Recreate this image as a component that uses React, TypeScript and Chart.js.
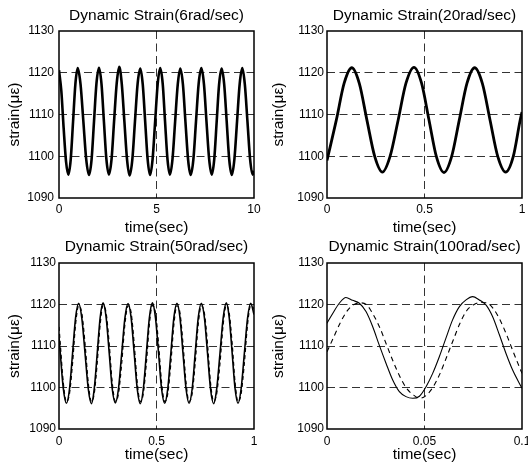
import React, { useEffect, useRef } from 'react';
import { Chart, registerables } from 'chart.js';

Chart.register(...registerables);

const FONT = '"Liberation Sans", Arial, Helvetica, sans-serif';

// ---------- tick values / labels ----------
const yTicks = [1090, 1100, 1110, 1120, 1130];
const yTickLabels = ['1090', '1100', '1110', '1120', '1130'];
const xTicks6 = [0, 5, 10];
const xTickLabels6 = ['0', '5', '10'];
const xTicks20 = [0, 0.5, 1];
const xTickLabels20 = ['0', '0.5', '1'];
const xTicks50 = [0, 0.5, 1];
const xTickLabels50 = ['0', '0.5', '1'];
const xTicks100 = [0, 0.05, 0.1];
const xTickLabels100 = ['0', '0.05', '0.1'];

// ---------- 6 rad/sec ----------
const t6 = [0, 0.12, 0.24, 0.36, 0.48, 0.60, 0.72, 0.84, 0.96,
  1.105, 1.25, 1.395, 1.54, 1.67, 1.795, 1.92, 2.05,
  2.18, 2.305, 2.43, 2.56, 2.695, 2.825, 2.96, 3.09,
  3.22, 3.355, 3.49, 3.62, 3.76, 3.895, 4.03, 4.17,
  4.295, 4.42, 4.545, 4.67, 4.8, 4.93, 5.06, 5.19,
  5.32, 5.44, 5.565, 5.69, 5.82, 5.955, 6.09, 6.22,
  6.355, 6.485, 6.62, 6.75, 6.89, 7.025, 7.16, 7.30,
  7.435, 7.565, 7.70, 7.83, 7.96, 8.085, 8.21, 8.34,
  8.47, 8.6, 8.73, 8.86, 8.995, 9.13, 9.265, 9.40,
  9.53, 9.665, 9.80, 9.93, 10.0];
const v6 = [1120.6, 1115.6, 1106.6, 1098.8, 1095.6, 1099.2, 1108.2, 1117.3, 1121.1,
  1117.2, 1108.3, 1099.3, 1095.5, 1099.2, 1108.3, 1117.4, 1121.2,
  1117.3, 1108.2, 1099.3, 1095.6, 1099.3, 1108.4, 1117.5, 1121.4,
  1117.3, 1108.2, 1099.2, 1095.4, 1099.2, 1108.3, 1117.3, 1121.0,
  1117.2, 1108.3, 1099.3, 1095.5, 1099.3, 1108.3, 1117.3, 1121.1,
  1117.3, 1108.2, 1099.2, 1095.6, 1099.3, 1108.3, 1117.2, 1121.0,
  1117.2, 1108.2, 1099.2, 1095.5, 1099.2, 1108.3, 1117.3, 1121.1,
  1117.2, 1108.2, 1099.3, 1095.6, 1099.2, 1108.2, 1117.2, 1121.0,
  1117.3, 1108.3, 1099.2, 1095.5, 1099.3, 1108.3, 1117.3, 1121.1,
  1117.2, 1108.3, 1099.3, 1095.6, 1096.5];

// ---------- 20 rad/sec ----------
const t20 = [0, 0.048, 0.088, 0.127, 0.166, 0.205, 0.245, 0.284, 0.323, 0.365, 0.405, 0.446,
  0.485, 0.523, 0.561, 0.600, 0.639, 0.678, 0.718, 0.757, 0.797, 0.836, 0.876, 0.916,
  0.955, 0.99, 1.0];
const v20 = [1099.0, 1108.7, 1117.5, 1121.2, 1117.4, 1108.6, 1099.9, 1096.2, 1099.9, 1108.7, 1117.5, 1121.3,
  1117.5, 1108.7, 1099.9, 1096.1, 1099.9, 1108.6, 1117.5, 1121.2, 1117.4, 1108.7, 1099.9, 1096.2,
  1099.9, 1108.5, 1110.6];

// ---------- 50 rad/sec ----------
const t50 = [0, 0.0065, 0.022, 0.038, 0.054, 0.0695, 0.085, 0.101,
  0.117, 0.1335, 0.15, 0.166, 0.181, 0.196, 0.211, 0.226,
  0.242, 0.2575, 0.273, 0.289, 0.305, 0.3215, 0.338, 0.354,
  0.37, 0.3855, 0.401, 0.417, 0.4325, 0.448, 0.4635, 0.479,
  0.495, 0.5105, 0.526, 0.542, 0.558, 0.5735, 0.589, 0.605,
  0.6205, 0.636, 0.6515, 0.667, 0.683, 0.6985, 0.714, 0.73,
  0.746, 0.7615, 0.777, 0.793, 0.809, 0.8255, 0.842, 0.858,
  0.873, 0.888, 0.903, 0.918, 0.934, 0.9505, 0.967, 0.983, 1.0];
const v50Measured = [1112.1, 1108.3, 1099.8, 1096.2, 1099.7, 1108.2, 1116.8, 1120.3,
  1116.7, 1108.3, 1099.7, 1096.1, 1099.8, 1108.2, 1116.8, 1120.4,
  1116.8, 1108.3, 1099.7, 1096.3, 1099.7, 1108.2, 1116.7, 1120.2,
  1116.8, 1108.3, 1099.8, 1096.1, 1099.7, 1108.2, 1116.8, 1120.4,
  1116.7, 1108.3, 1099.7, 1096.2, 1099.8, 1108.2, 1116.8, 1120.3,
  1116.8, 1108.2, 1099.7, 1096.2, 1099.7, 1108.3, 1116.8, 1120.3,
  1116.7, 1108.3, 1099.7, 1096.1, 1099.8, 1108.2, 1116.8, 1120.4,
  1116.8, 1108.3, 1099.7, 1096.2, 1099.7, 1108.2, 1116.7, 1120.3, 1117.6];
const v50Simulated = [1114.6, 1110.6, 1101.2, 1096.6, 1098.6, 1105.8, 1115.2, 1119.7,
  1117.9, 1110.6, 1101.2, 1096.6, 1098.6, 1105.9, 1115.1, 1119.8,
  1117.9, 1110.5, 1101.2, 1096.7, 1098.5, 1105.8, 1115.2, 1119.7,
  1118.0, 1110.6, 1101.3, 1096.6, 1098.6, 1105.8, 1115.2, 1119.8,
  1117.9, 1110.6, 1101.2, 1096.6, 1098.6, 1105.8, 1115.1, 1119.7,
  1117.9, 1110.5, 1101.2, 1096.6, 1098.6, 1105.9, 1115.2, 1119.7,
  1117.8, 1110.6, 1101.2, 1096.7, 1098.6, 1105.8, 1115.2, 1119.8,
  1117.9, 1110.6, 1101.2, 1096.6, 1098.5, 1105.8, 1115.2, 1119.7, 1119.0];

// ---------- 100 rad/sec ----------
const t100Measured = [0, 0.003, 0.0063, 0.0097, 0.0131, 0.0166, 0.02, 0.0234, 0.0268, 0.0303,
  0.0337, 0.0371, 0.0405, 0.044, 0.0474, 0.0508, 0.0542, 0.0576, 0.061, 0.0644,
  0.0679, 0.0713, 0.0747, 0.0781, 0.0815, 0.0849, 0.0884, 0.0918, 0.0952, 0.1];
const v100Measured = [1115.5, 1117.9, 1120.3, 1121.7, 1121.0, 1120.3, 1118.3, 1114.7, 1110.2, 1105.8,
  1101.8, 1099.0, 1097.8, 1097.4, 1097.9, 1100.2, 1103.4, 1107.4, 1111.9, 1116.3,
  1119.5, 1121.1, 1121.9, 1121.1, 1119.9, 1117.1, 1112.7, 1108.2, 1104.2, 1099.8];
const t100Simulated = [0, 0.0033, 0.0067, 0.0101, 0.0135, 0.017, 0.0204, 0.0238, 0.0272, 0.0306,
  0.034, 0.0374, 0.0408, 0.0443, 0.0477, 0.0511, 0.0545, 0.058, 0.0614, 0.0648,
  0.0682, 0.0716, 0.075, 0.0785, 0.0819, 0.0853, 0.0887, 0.0921, 0.0955, 0.1];
const v100Simulated = [1108.6, 1112.0, 1115.5, 1118.3, 1119.9, 1120.4, 1119.9, 1117.5, 1114.3, 1110.2,
  1106.2, 1102.6, 1099.8, 1098.2, 1097.4, 1098.2, 1100.2, 1103.4, 1107.4, 1111.5,
  1115.5, 1118.5, 1119.9, 1120.5, 1120.4, 1119.0, 1116.3, 1112.7, 1108.6, 1103.4];

// ---------- panel layout ----------
type Series = { t: number[]; v: number[]; width: number; dash: number[] };
type PanelCfg = {
  title: string;
  xTicks: number[];
  xLabels: string[];
  series: Series[];
  left: number; top: number; w: number; h: number;
  cl: number; cr: number; cb: number;
  titlePad: { top: number; bottom: number };
  xTickPad: number; yTickPad: number;
};

const panels: PanelCfg[] = [
  {
    title: 'Dynamic Strain(6rad/sec)', xTicks: xTicks6, xLabels: xTickLabels6,
    series: [{ t: t6, v: v6, width: 2.6, dash: [] }],
    left: 0, top: 0, w: 264, h: 240, cl: 59, cr: 254, cb: 198,
    titlePad: { top: 6.5, bottom: 6.5 }, xTickPad: 4, yTickPad: 5,
  },
  {
    title: 'Dynamic Strain(20rad/sec)', xTicks: xTicks20, xLabels: xTickLabels20,
    series: [{ t: t20, v: v20, width: 2.8, dash: [] }],
    left: 264, top: 0, w: 264, h: 240, cl: 63, cr: 258, cb: 198,
    titlePad: { top: 6.5, bottom: 6.5 }, xTickPad: 4, yTickPad: 3,
  },
  {
    title: 'Dynamic Strain(50rad/sec)', xTicks: xTicks50, xLabels: xTickLabels50,
    series: [
      { t: t50, v: v50Simulated, width: 1.2, dash: [4, 3] },
      { t: t50, v: v50Measured, width: 1.6, dash: [] },
    ],
    left: 0, top: 233, w: 264, h: 234, cl: 59, cr: 254, cb: 196,
    titlePad: { top: 4.7, bottom: 7.3 }, xTickPad: 5.5, yTickPad: 3,
  },
  {
    title: 'Dynamic Strain(100rad/sec)', xTicks: xTicks100, xLabels: xTickLabels100,
    series: [
      { t: t100Simulated, v: v100Simulated, width: 1.1, dash: [5, 4] },
      { t: t100Measured, v: v100Measured, width: 1.1, dash: [] },
    ],
    left: 264, top: 233, w: 264, h: 234, cl: 63, cr: 258, cb: 196,
    titlePad: { top: 4.7, bottom: 7.3 }, xTickPad: 5.5, yTickPad: 3,
  },
];

const framePlugin = {
  id: 'frame',
  afterDraw(chart: any) {
    const { ctx, chartArea: a } = chart;
    ctx.save();
    ctx.strokeStyle = '#000';
    ctx.lineWidth = 1.5;
    ctx.strokeRect(a.left, a.top, a.right - a.left, a.bottom - a.top);
    ctx.restore();
  },
};

const GRID = '#333';

function Panel({ cfg }: { cfg: PanelCfg }) {
  const ref = useRef<HTMLCanvasElement>(null);
  useEffect(() => {
    const xMin = cfg.xTicks[0];
    const xMax = cfg.xTicks[cfg.xTicks.length - 1];
    const chart = new Chart(ref.current as HTMLCanvasElement, {
      type: 'line',
      data: {
        datasets: cfg.series.map((s) => ({
          data: s.t.map((x, i) => ({ x, y: s.v[i] })),
          borderColor: '#000',
          borderWidth: s.width,
          borderDash: s.dash,
          pointRadius: 0,
          fill: false,
          cubicInterpolationMode: 'monotone' as const,
        })),
      },
      options: {
        animation: false,
        responsive: false,
        devicePixelRatio: 1,
        layout: { padding: { left: 0, top: 0, bottom: 0, right: cfg.w - cfg.cr } },
        plugins: {
          legend: { display: false },
          tooltip: { enabled: false },
          title: {
            display: true,
            fullSize: false,
            text: cfg.title,
            color: '#000',
            font: { family: FONT, size: 15.5, weight: 'normal', lineHeight: 18 / 15.5 },
            padding: cfg.titlePad,
          },
        },
        scales: {
          x: {
            type: 'linear',
            min: xMin,
            max: xMax,
            afterBuildTicks: (scale: any) => {
              scale.ticks = cfg.xTicks.map((value) => ({ value }));
            },
            afterFit: (scale: any) => {
              scale.height = cfg.h - cfg.cb;
              scale.paddingLeft = 0;
              scale.paddingRight = 0;
            },
            ticks: {
              color: '#000',
              font: { family: FONT, size: 12 },
              padding: cfg.xTickPad,
              maxRotation: 0,
              autoSkip: false,
              callback: (_v: any, i: number) => cfg.xLabels[i],
            },
            grid: {
              drawTicks: false,
              lineWidth: 1,
              color: (c: any) =>
                c.tick && c.tick.value > xMin && c.tick.value < xMax ? GRID : 'rgba(0,0,0,0)',
            },
            border: { display: false, dash: [8, 4.5] },
            title: {
              display: true,
              text: 'time(sec)',
              color: '#000',
              font: { family: FONT, size: 15.5, lineHeight: 18 / 15.5 },
              padding: { top: 0, bottom: 3 },
            },
          },
          y: {
            type: 'linear',
            min: 1090,
            max: 1130,
            afterBuildTicks: (scale: any) => {
              scale.ticks = yTicks.map((value) => ({ value }));
            },
            afterFit: (scale: any) => {
              scale.width = cfg.cl;
              scale.paddingTop = 0;
              scale.paddingBottom = 0;
            },
            ticks: {
              color: '#000',
              font: { family: FONT, size: 12 },
              padding: cfg.yTickPad,
              autoSkip: false,
              callback: (_v: any, i: number) => yTickLabels[i],
            },
            grid: {
              drawTicks: false,
              lineWidth: 1,
              color: (c: any) =>
                c.tick && c.tick.value > 1090 && c.tick.value < 1130 ? GRID : 'rgba(0,0,0,0)',
            },
            border: { display: false, dash: [8, 4.5] },
            title: {
              display: true,
              text: 'strain(με)',
              color: '#000',
              font: { family: FONT, size: 15.5, lineHeight: 18 / 15.5 },
              padding: { top: 5.5, bottom: 0 },
            },
          },
        },
      } as any,
      plugins: [framePlugin],
    });
    return () => chart.destroy();
  }, [cfg]);

  return (
    <canvas
      ref={ref}
      width={cfg.w}
      height={cfg.h}
      style={{ position: 'absolute', left: cfg.left, top: cfg.top, width: cfg.w, height: cfg.h }}
    />
  );
}

export default function App() {
  return (
    <div
      style={{
        position: 'absolute',
        left: 0,
        top: 0,
        width: 528,
        height: 467,
        overflow: 'hidden',
        background: '#fff',
      }}
    >
      {panels.map((p, i) => (
        <Panel key={i} cfg={p} />
      ))}
    </div>
  );
}
